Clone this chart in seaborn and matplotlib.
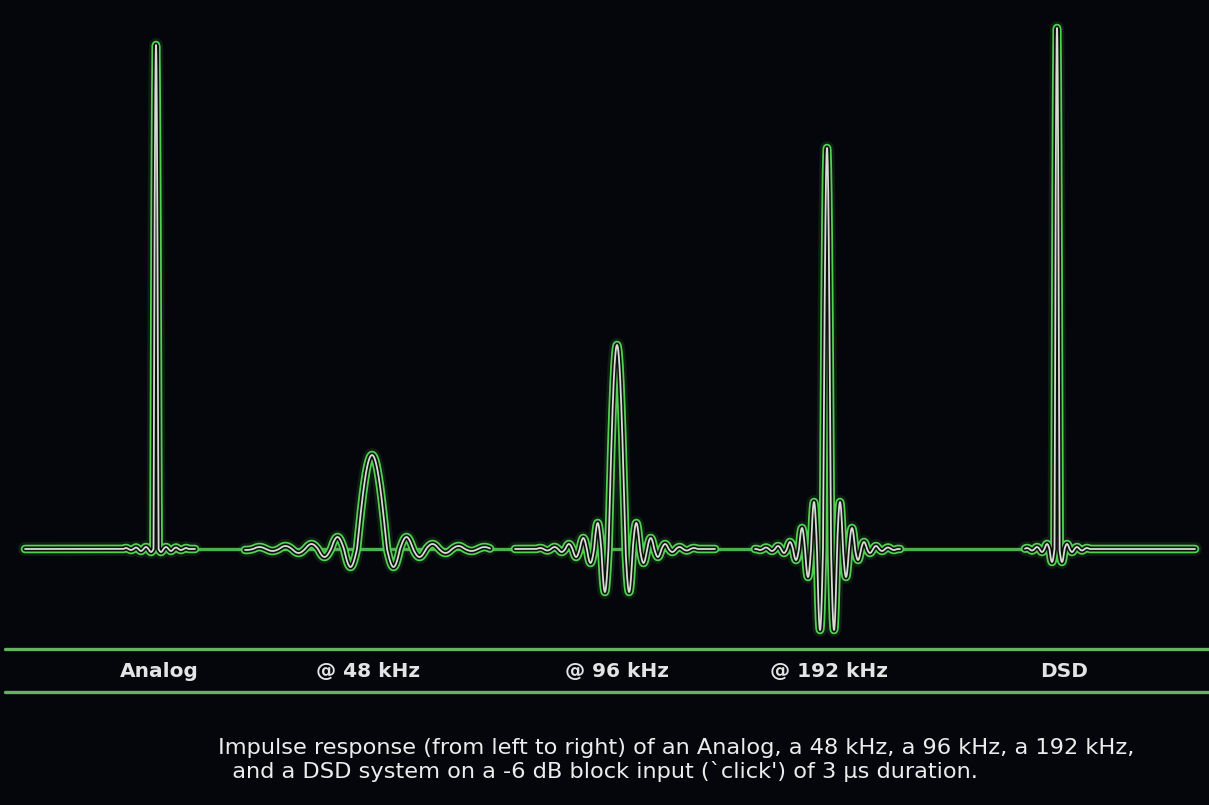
import numpy as np
import pandas as pd
import matplotlib
matplotlib.use("Agg")
import matplotlib.pyplot as plt
import seaborn as sns

# ---- data (pixel-based units, baseline = 0) ----
systems = ["Analog", "@ 48 kHz", "@ 96 kHz", "@ 192 kHz", "DSD"]
centers = [156, 372, 617, 827, 1057]
peak = [504, 94, 204, 401, 521]
ring_analog = [-3, 2, -2, 1.5, -1, 1]
ring_48 = [-18, 12, -8, 5, -4, 3, -2, 2, -1, 1]
ring_96 = [-43, 26, -14, 11, -8, 5, -3, 2, -1.5, 1]
ring_192 = [-81, 47, -28, 21, -11, 7, -4, 3, -2, 1.5, -1]
ring_dsd = [-13, 5, -3, 2, -1.5, 1]
rings = [ring_analog, ring_48, ring_96, ring_192, ring_dsd]
caption = ("Impulse response (from left to right) of an Analog, a 48 kHz, a 96 kHz, a 192 kHz,\n"
           "  and a DSD system on a -6 dB block input (`click') of 3 \u00b5s duration.")

# shape / layout parameters
main_width = [5, 30, 17, 8, 5]
lobe_width = [5, 13, 7.2, 6, 5]
spans = [(25, 195), (245, 490), (515, 715), (755, 900), (1025, 1195)]

W, H = 1209, 805
base_px = 549

def wave(c, a0, ring, w0, w, lo, hi):
    x = np.linspace(lo, hi, 4000)
    d = np.abs(x - c)
    y = np.zeros_like(x)
    m = d <= w0 / 2
    y[m] = a0 * np.cos(np.pi * d[m] / w0)
    r = d - w0 / 2
    k = np.floor(r / w).astype(int)
    for i, amp in enumerate(ring):
        mm = (~m) & (k == i)
        y[mm] = amp * np.sin(np.pi * (r[mm] - i * w) / w)
    return x, y

frames = []
for s, c, a0, ring, w0, w, (lo, hi) in zip(systems, centers, peak, rings, main_width, lobe_width, spans):
    x, y = wave(c, a0, ring, w0, w, lo, hi)
    frames.append(pd.DataFrame({"x": x, "y": y, "system": s}))
df = pd.concat(frames, ignore_index=True)

sns.set_style("dark")
plt.rcParams["font.family"] = ["DejaVu Sans"]
bg = "#05060b"
fig = plt.figure(figsize=(W / 100, H / 100), dpi=100, facecolor=bg)
ax = fig.add_axes([0, 0, 1, 1])
ax.set_facecolor(bg)

# baseline
ax.plot([25, 1195], [0, 0], color="#4fae4f", lw=2.4, solid_capstyle="round", zorder=1)

green = "#52d052"
for s in systems:
    d = df[df["system"] == s]
    sns.lineplot(data=d, x="x", y="y", ax=ax, color=green, lw=10, alpha=0.12,
                 sort=False, estimator=None, legend=False, zorder=2)
    sns.lineplot(data=d, x="x", y="y", ax=ax, color=green, lw=6.2,
                 sort=False, estimator=None, legend=False, zorder=3)
    sns.lineplot(data=d, x="x", y="y", ax=ax, color="#0b0f0b", lw=3.6,
                 sort=False, estimator=None, legend=False, zorder=4)
    sns.lineplot(data=d, x="x", y="y", ax=ax, color="#d9dcd6", lw=1.3,
                 sort=False, estimator=None, legend=False, zorder=5)

ax.set_xlim(0, W)
ax.set_ylim(base_px - H, base_px)
ax.axis("off")

# label band
band_col = "#62b55c"
for ypx in (649, 692):
    ax.plot([5, W], [base_px - ypx, base_px - ypx], color=band_col, lw=2.4, zorder=1)
label_x = [159, 368, 617, 829, 1064]
for s, lx in zip(systems, label_x):
    ax.text(lx, base_px - 671, s, color="#e4e4e4", fontsize=14.5, fontweight="bold",
            ha="center", va="center")

ax.text(218, base_px - 760, caption, color="#ececec", fontsize=16.2,
        ha="left", va="center", linespacing=1.12)

fig.savefig("out.png", dpi=100, facecolor=bg)
